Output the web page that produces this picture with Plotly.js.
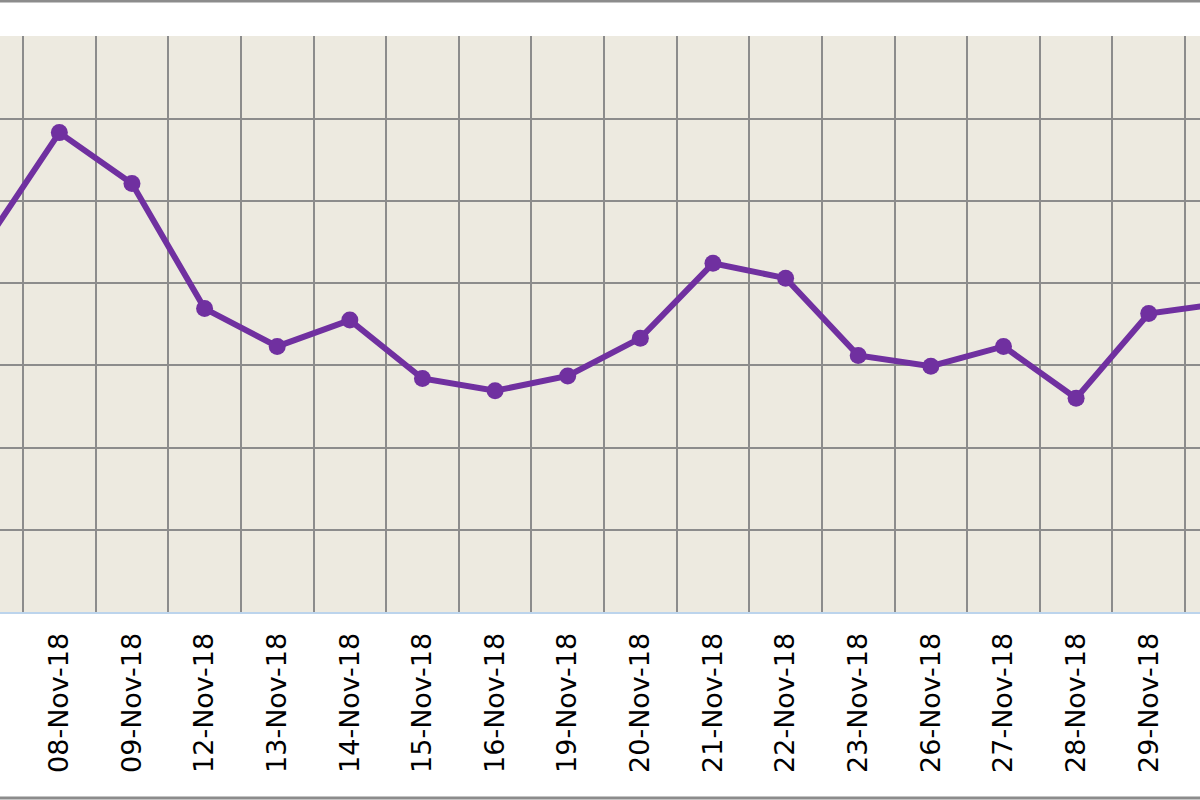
<!DOCTYPE html>
<html>
<head>
<meta charset="utf-8">
<script src="https://cdn.plot.ly/plotly-3.0.1.min.js"></script>
<style>
  body { margin: 0; background: #fff; }
  #chart { width: 1200px; height: 800px; }
</style>
</head>
<body>
<div id="chart"></div>
<script>
// dates shown on the axis (first and last sit partly outside the crop)
var dates = ["07-Nov-18", "08-Nov-18", "09-Nov-18", "12-Nov-18", "13-Nov-18", "14-Nov-18",
             "15-Nov-18", "16-Nov-18", "19-Nov-18", "20-Nov-18", "21-Nov-18", "22-Nov-18",
             "23-Nov-18", "26-Nov-18", "27-Nov-18", "28-Nov-18", "29-Nov-18", "30-Nov-18"];
// values (grid step = 10)
var values = [45.1, 58.3, 52.1, 36.9, 32.3, 35.5, 28.4, 26.9, 28.7, 33.3,
              42.4, 40.6, 31.2, 29.9, 32.3, 26.0, 36.3, 37.5];

// first label is highlighted in the source
var tickLabels = dates.map(function (d, i) {
  return i === 0 ? '<span style="color:#4fc3ea">' + d + '</span>' : d;
});

var trace = {
  x: dates,
  y: values,
  type: "scatter",
  mode: "lines+markers",
  line: { color: "#7030a0", width: 6 },
  marker: { color: "#7030a0", size: 17 },
  hoverinfo: "x+y"
};

var layout = {
  width: 1200,
  height: 800,
  margin: { l: 0, r: 0, t: 36, b: 188 },
  paper_bgcolor: "#ffffff",
  plot_bgcolor: "#edeae0",
  showlegend: false,
  font: { family: "DejaVu Sans, Verdana, sans-serif", color: "#000" },
  xaxis: {
    type: "category",
    range: [0.183, 16.706],
    tickvals: dates,
    ticktext: tickLabels,
    tickangle: -90,
    tickson: "boundaries",
    ticks: "",
    ticklabelstandoff: 8,
    tickfont: { size: 27, color: "#000" },
    showgrid: true,
    gridcolor: "#8c8c8c",
    gridwidth: 2,
    showline: true,
    linecolor: "#bcd4ec",
    linewidth: 2,
    zeroline: false,
    fixedrange: true
  },
  yaxis: {
    range: [0, 70.05],
    dtick: 10,
    showticklabels: false,
    ticks: "",
    showgrid: true,
    gridcolor: "#8c8c8c",
    gridwidth: 2,
    zeroline: false,
    fixedrange: true
  },
  shapes: [
    { type: "line", xref: "paper", yref: "paper", x0: 0, x1: 1,
      y0: 611 / 576, y1: 611 / 576, line: { color: "#8c8c8c", width: 3 } },
    { type: "line", xref: "paper", yref: "paper", x0: 0, x1: 1,
      y0: (612 - 798) / 576, y1: (612 - 798) / 576, line: { color: "#8c8c8c", width: 3 } }
  ]
};

Plotly.newPlot("chart", [trace], layout, { displayModeBar: false, staticPlot: true });
</script>
</body>
</html>
